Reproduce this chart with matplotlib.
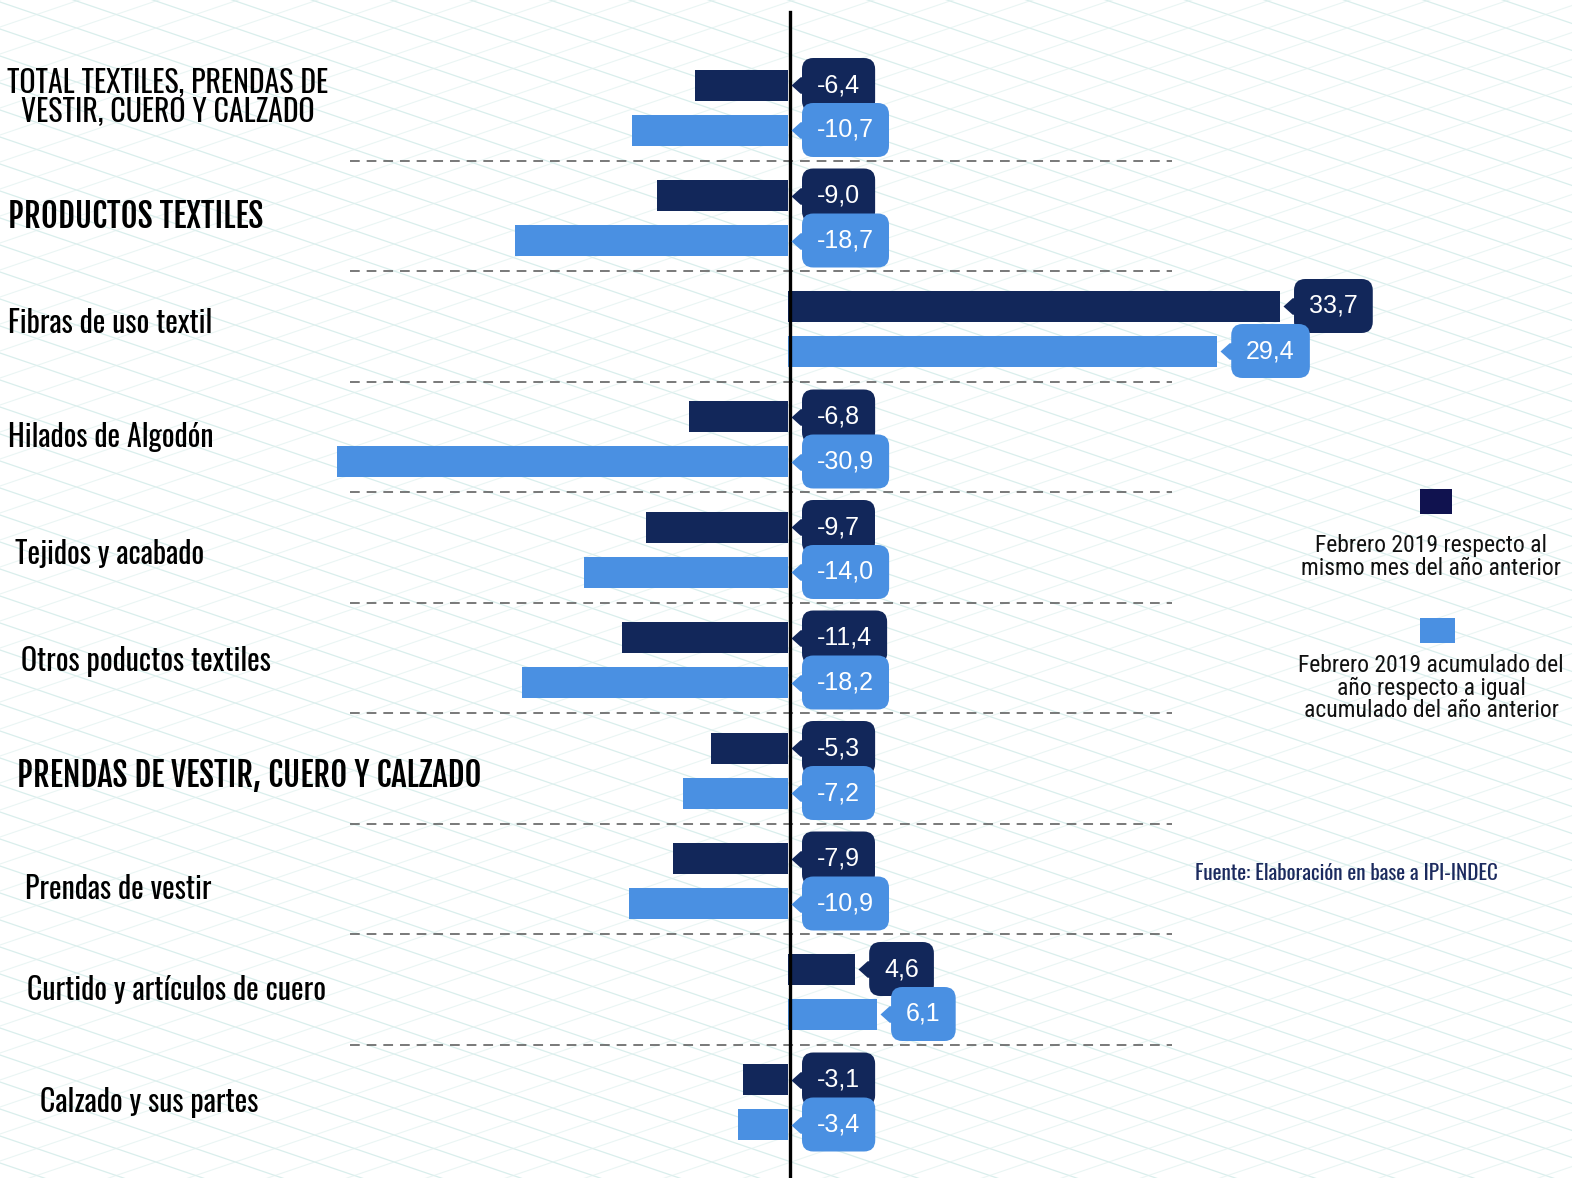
import matplotlib
matplotlib.use("Agg")
import matplotlib.pyplot as plt
from matplotlib.transforms import ScaledTranslation, blended_transform_factory
from matplotlib.patches import Rectangle
import numpy as np

plt.rcParams['lines.scale_dashes'] = False

# ---------------- data ----------------
categories = [
    "TOTAL TEXTILES, PRENDAS DE\nVESTIR, CUERO Y CALZADO",
    "PRODUCTOS TEXTILES",
    "Fibras de uso textil",
    "Hilados de Algodón",
    "Tejidos y acabado",
    "Otros poductos textiles",
    "PRENDAS DE VESTIR, CUERO Y CALZADO",
    "Prendas de vestir",
    "Curtido y artículos de cuero",
    "Calzado y sus partes",
]
bold = [False, True, False, False, False, False, True, False, False, False]
mensual = [-6.4, -9.0, 33.7, -6.8, -9.7, -11.4, -5.3, -7.9, 4.6, -3.1]
acumulado = [-10.7, -18.7, 29.4, -30.9, -14.0, -18.2, -7.2, -10.9, 6.1, -3.4]
series_names = [
    "Febrero 2019 respecto al\nmismo mes del año anterior",
    "Febrero 2019 acumulado del\naño respecto a igual\nacumulado del año anterior",
]
source = "Fuente: Elaboración en base a IPI-INDEC"

# ---------------- style / layout ----------------
W, H = 1572, 1178
DARK = "#12275a"
LIGHT = "#4a90e2"
LEG_DARK = "#10124f"
CAT_FONT = ["Oswald", "DejaVu Sans"]
CAT_BOLD_FONT = ["Fjalla One", "Oswald", "DejaVu Sans"]
LEG_FONT = ["Roboto Condensed", "DejaVu Sans"]
SANS = ["Liberation Sans", "DejaVu Sans"]

px_per_unit = 14.6
zero_px = 788
c0_px, step_px = 107.5, 110.5

fig = plt.figure(figsize=(W / 100, H / 100), dpi=100)
fig.patch.set_facecolor("white")

# background decorative grid
bg = fig.add_axes([0, 0, 1, 1], zorder=0)
bg.set_xlim(0, W)
bg.set_ylim(H, 0)
bg.axis("off")
xs = np.array([0, W])
for b in np.arange(-700, H + 50, 27):
    bg.plot(xs, b + 0.34 * xs, color="#d9eeec", lw=0.9)
for b in np.arange(0, H + 700, 27):
    bg.plot(xs, b - 0.34 * xs, color="#e1f1ef", lw=0.8, alpha=0.7)

ax = fig.add_axes([0, 0, 1, 1], zorder=1)
ax.patch.set_alpha(0)
ax.set_xlim(-zero_px / px_per_unit, (W - zero_px) / px_per_unit)
ax.set_ylim((H - c0_px) / step_px, -c0_px / step_px)
ax.axis("off")

n = len(categories)
y = np.arange(n)
off = 22.5 / step_px
bh = 31 / step_px

ax.barh(y - off, mensual, height=bh, color=DARK, zorder=2)
ax.barh(y + off, acumulado, height=bh, color=LIGHT, zorder=2)

# zero line
ax.axvline(0.12, ymin=0, ymax=1 - 12 / H, color="black", lw=2.4, zorder=3)

# dashed separators
ax.hlines(y[:-1] + 0.48, (350 - zero_px) / px_per_unit, (1172 - zero_px) / px_per_unit,
          colors="#555555", linestyles=(0, (7, 5)), lw=1.1, zorder=1.5)

# callouts
tip_off = ScaledTranslation(3 / 100, 0, fig.dpi_scale_trans)
ptr = [(0, 0), (1, -0.9), (2.2, -0.9), (2.2, 0.9), (1, 0.9)]


def callout(val, yy, color, z):
    anchor = max(val, 0)
    ax.plot([anchor], [yy], marker=ptr, ms=29, color=color, mec="none",
            transform=ax.transData + tip_off, zorder=z, clip_on=False)
    txt = f"{val:.1f}".replace(".", ",")
    ax.annotate(txt, xy=(anchor, yy), xytext=(29, 0), textcoords="offset pixels",
                ha="left", va="center", color="white", fontsize=18, family=SANS,
                bbox=dict(boxstyle="round,pad=0.6,rounding_size=0.45", fc=color, ec="none"),
                zorder=z)


for i in range(n):
    callout(mensual[i], y[i] - off, DARK, 4 + 2 * i)
    callout(acumulado[i], y[i] + off, LIGHT, 5 + 2 * i)

# category labels
label_x_px = [168, 8, 8, 8, 15, 21, 17, 25, 27, 40]
label_dy_px = [-10, -1, -5, -2, 5, 1, 5, 8, -1, 0]
tr = blended_transform_factory(ax.transAxes, ax.transData)
for i, lab in enumerate(categories):
    ha = "center" if "\n" in lab else "left"
    ax.text(label_x_px[i] / W, y[i] + label_dy_px[i] / step_px, lab, transform=tr,
            ha=ha, va="center", multialignment="center",
            fontsize=23.5 if bold[i] else 21.5,
            family=CAT_BOLD_FONT if bold[i] else CAT_FONT,
            color="black", linespacing=0.92)

# legend
def fx(px):
    return px / W


def fy(px):
    return 1 - px / H


fig.patches.append(Rectangle((fx(1420), fy(514)), 32 / W, 25 / H, transform=fig.transFigure,
                             fc=LEG_DARK, ec="none", zorder=5))
fig.patches.append(Rectangle((fx(1420), fy(643)), 35 / W, 25 / H, transform=fig.transFigure,
                             fc=LIGHT, ec="none", zorder=5))
fig.text(fx(1431), fy(557), series_names[0], ha="center", va="center", fontsize=17,
         family=LEG_FONT, color="#111111", linespacing=0.95, multialignment="center")
fig.text(fx(1431), fy(688), series_names[1], ha="center", va="center", fontsize=17,
         family=LEG_FONT, color="#111111", linespacing=0.95, multialignment="center")

fig.text(fx(1195), fy(873), source, ha="left", va="center", fontsize=15.2,
         family=CAT_FONT, color="#1b2a5e")

fig.savefig("out.png", dpi=100, facecolor="white")
